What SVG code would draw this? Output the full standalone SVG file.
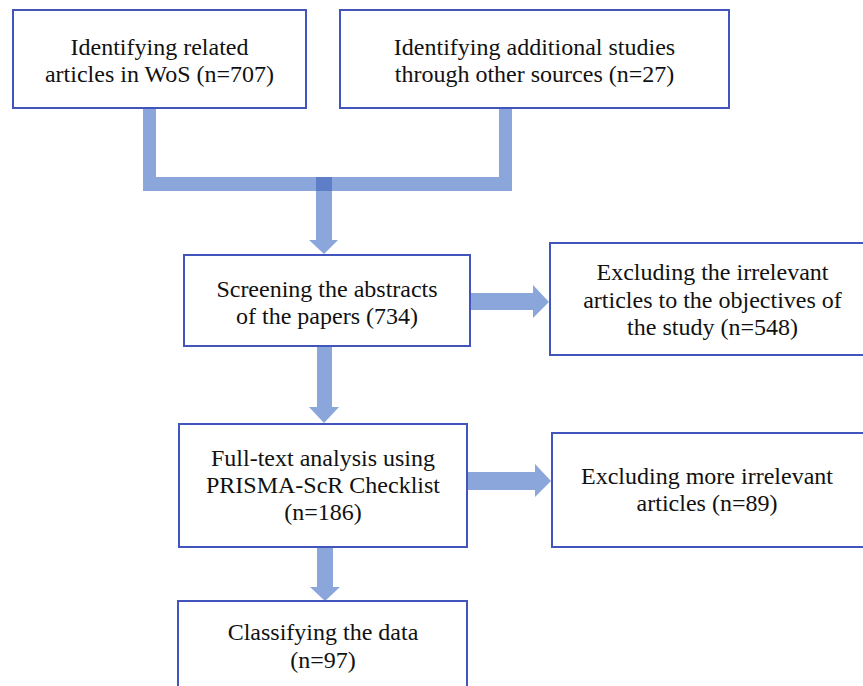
<svg xmlns="http://www.w3.org/2000/svg" width="863" height="686" viewBox="0 0 863 686">
<style>
.box{fill:#fff;stroke:#4155BD;stroke-width:2}
.t{font-family:"Liberation Serif","Times New Roman","DejaVu Serif",serif;font-size:24px;fill:#111;text-anchor:middle}
.a{fill:#8BA6DA}
</style>
<rect width="863" height="686" fill="#fff"/>
<g id="connectors">
<path class="a" d="M143,108 H156 V177 H499 V108 H512 V191 H143 Z"/>
<path class="a" d="M316,191 H332 V240 H338 L324,254 L309,240 H316 Z"/>
<rect x="316" y="177" width="16" height="14" fill="#5E7EC8"/>
<path class="a" d="M469,293 H533 V285 L549,302 L533,318 V310 H469 Z"/>
<path class="a" d="M317,347 H332 V407 H339 L324,423 L309,407 H317 Z"/>
<path class="a" d="M467,472 H535 V464 L551,481 L535,497 V490 H467 Z"/>
<path class="a" d="M317,548 H333 V587 H340 L325,601 L310,587 H317 Z"/>
</g>
<g id="n1"><rect class="box" x="13" y="10" width="293" height="98"/>
<text class="t" x="159.5" y="55">Identifying related</text>
<text class="t" x="159.5" y="82">articles in WoS (n=707)</text></g>
<g id="n2"><rect class="box" x="340" y="10" width="389" height="98"/>
<text class="t" x="534.5" y="55">Identifying additional studies</text>
<text class="t" x="534.5" y="82">through other sources (n=27)</text></g>
<g id="n3"><rect class="box" x="184" y="255" width="286" height="91"/>
<text class="t" x="327" y="297">Screening the abstracts</text>
<text class="t" x="327" y="324">of the papers (734)</text></g>
<g id="n4"><rect class="box" x="550" y="243" width="325" height="112"/>
<text class="t" x="712.5" y="280">Excluding the irrelevant</text>
<text class="t" x="712.5" y="308">articles to the objectives of</text>
<text class="t" x="712.5" y="335">the study (n=548)</text></g>
<g id="n5"><rect class="box" x="179" y="424" width="288" height="123"/>
<text class="t" x="323" y="466">Full-text analysis using</text>
<text class="t" x="323" y="493">PRISMA-ScR Checklist</text>
<text class="t" x="323" y="520">(n=186)</text></g>
<g id="n6"><rect class="box" x="552" y="433" width="323" height="114"/>
<text class="t" x="707" y="484">Excluding more irrelevant</text>
<text class="t" x="707" y="511">articles (n=89)</text></g>
<g id="n7"><rect class="box" x="178" y="601" width="289" height="100"/>
<text class="t" x="323" y="640">Classifying the data</text>
<text class="t" x="323" y="668">(n=97)</text></g>
</svg>
